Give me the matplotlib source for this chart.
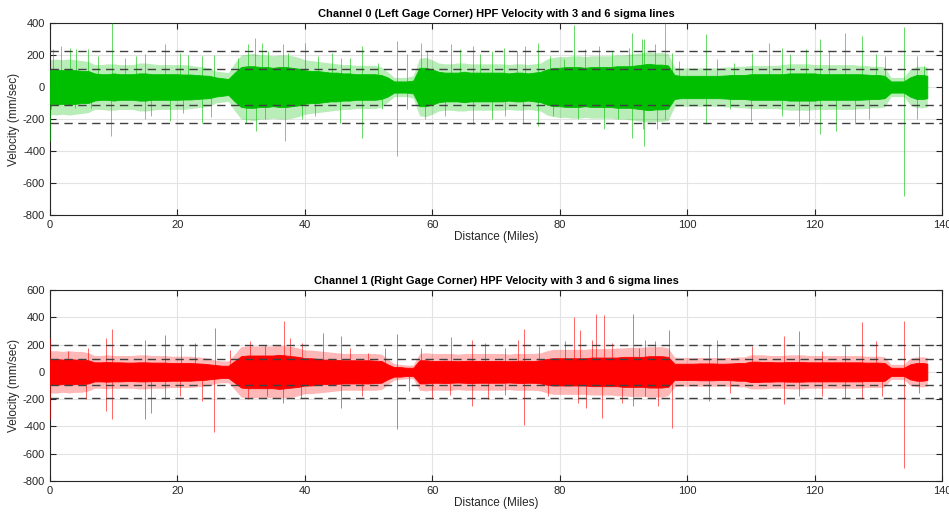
import matplotlib
matplotlib.use("Agg")
import matplotlib.pyplot as plt
import numpy as np

plt.rcParams['font.family'] = ['Liberation Sans', 'DejaVu Sans']
plt.rcParams['axes.unicode_minus'] = False

# ---------------- data ----------------
distance_ticks = [0, 20, 40, 60, 80, 100, 120, 140]
yticks_ch0 = [-800, -600, -400, -200, 0, 200, 400]
yticks_ch1 = [-800, -600, -400, -200, 0, 200, 400, 600]

# sample miles for the dense-signal envelope (one per mile, last = end of run)
env_miles = list(range(138)) + [137.7]

# Channel 0: amplitude of the dense (solid) part of the signal, mm/sec
ch0_core = [105, 110, 105, 110, 105, 100, 100, 85, 80, 80,
            85, 80, 80, 80, 85, 85, 80, 80, 80, 80,
            80, 78, 78, 75, 72, 70, 60, 55, 50, 90,
            125, 130, 130, 125, 125, 120, 125, 125, 120, 115,
            105, 100, 100, 95, 90, 90, 85, 85, 80, 80,
            80, 80, 75, 60, 35, 35, 35, 40, 120, 120,
            110, 95, 90, 90, 90, 95, 90, 90, 90, 90,
            90, 90, 85, 90, 90, 85, 90, 95, 110, 120,
            120, 125, 125, 125, 120, 125, 125, 125, 125, 130,
            130, 130, 135, 140, 145, 140, 140, 135, 75, 70,
            70, 70, 70, 70, 70, 70, 72, 75, 75, 75,
            80, 80, 80, 80, 80, 80, 85, 85, 85, 85,
            85, 80, 80, 80, 80, 80, 80, 80, 78, 75,
            75, 70, 35, 35, 35, 60, 75, 75, 70]
# Channel 0: reach of the thinner "fuzz" of hairs around the solid part
ch0_fuzz = [170, 175, 170, 175, 170, 165, 160, 140, 140, 145,
            145, 140, 140, 140, 150, 150, 145, 140, 140, 140,
            140, 140, 135, 130, 125, 120, 100, 95, 90, 150,
            200, 205, 210, 200, 200, 195, 200, 200, 195, 185,
            170, 165, 160, 155, 150, 145, 140, 140, 135, 135,
            135, 135, 125, 95, 60, 60, 60, 70, 180, 185,
            170, 150, 145, 145, 150, 150, 145, 145, 145, 145,
            145, 145, 140, 145, 145, 140, 145, 150, 175, 185,
            190, 190, 195, 195, 190, 195, 195, 195, 195, 200,
            200, 205, 210, 215, 220, 215, 215, 210, 125, 120,
            120, 120, 120, 120, 120, 120, 125, 125, 130, 130,
            135, 135, 135, 135, 135, 140, 145, 145, 145, 145,
            140, 140, 140, 140, 140, 140, 140, 135, 135, 130,
            130, 125, 60, 60, 60, 110, 130, 130, 125]

# Channel 0 hairs / spikes (mile, mm/sec)
ch0_pos_x = [0.5, 1.8, 3.2, 4.1, 5.9, 7.5, 9.8, 11.7, 13.5, 14.9, 18.0, 20.4, 21.7, 23.8, 25.8,
             29.5, 31.0, 32.1, 33.2, 34.2, 36.6, 37.4, 40.0, 42.1, 44.2, 45.7,
             47.1, 48.9, 51.5, 54.4, 56.0, 58.3, 59.1, 63.0, 64.4, 66.4, 67.5, 69.3, 71.2,
             73.3, 74.6, 76.6, 78.5, 80.6, 82.3, 84.0, 86.1, 88.2, 90.8, 91.4, 92.9,
             93.3, 95.0, 96.5, 97.6, 98.7, 102.9, 104.7, 107.3, 110.2, 112.8, 114.9, 116.2,
             118.6, 120.9, 122.2, 124.8, 127.4, 129.6, 131.1, 134.1, 136.1, 137.1]
ch0_pos_v = [240, 257, 246, 236, 240, 194, 400, 184, 194, 205, 267, 215, 198, 194, 198,
             184, 267, 309, 278, 225, 267, 215, 273, 194, 215, 184,
             184, 257, 152, 288, 205, 273, 225, 267, 236, 257, 205, 225, 246,
             225, 257, 273, 194, 173, 386, 236, 257, 225, 246, 340, 299,
             299, 267, 399, 215, 163, 330, 173, 152, 215, 273, 246, 205,
             236, 299, 225, 336, 320, 205, 194, 372, 194, 130]
ch0_neg_x = [0.0, 0.2, 3.9, 6.5, 9.6, 14.9, 15.9, 18.8, 20.9, 23.8, 25.3, 30.8, 32.4, 33.7, 36.9,
             39.5, 41.6, 45.5, 48.9, 52.1, 54.4, 56.0, 58.9, 62.0, 66.4, 69.3, 71.4, 74.3, 76.6,
             79.0, 82.9, 86.9, 89.2, 91.4, 93.1, 93.3, 95.3, 96.6, 103.0, 106.8, 110.1, 114.9,
             117.5, 119.1, 120.9, 123.4, 126.4, 128.5, 134.1, 136.1]
ch0_neg_v = [-338, -140, -130, -130, -307, -203, -182, -213, -160, -223, -190, -223, -276, -203, -338,
             -203, -180, -223, -317, -140, -432, -140, -203, -182, -234, -203, -182, -223, -244,
             -182, -203, -265, -203, -317, -265, -370, -265, -203, -234, -140, -213, -182,
             -244, -223, -296, -275, -234, -203, -682, -203]
ch0_sigma3 = 111
ch0_sigma6 = 222

# Channel 1: amplitude of the dense part of the signal, mm/sec
ch1_core = [95, 95, 90, 95, 90, 90, 85, 70, 70, 72,
            70, 70, 68, 68, 70, 70, 68, 68, 68, 65,
            65, 65, 65, 62, 60, 55, 50, 45, 45, 80,
            115, 120, 120, 120, 120, 120, 125, 120, 115, 110,
            100, 100, 95, 90, 90, 88, 85, 85, 85, 85,
            85, 82, 80, 55, 35, 35, 30, 30, 85, 85,
            80, 80, 82, 80, 78, 80, 82, 80, 80, 80,
            80, 80, 78, 80, 82, 80, 80, 85, 95, 100,
            100, 100, 100, 100, 100, 105, 105, 105, 105, 105,
            110, 110, 110, 110, 115, 115, 115, 110, 60, 60,
            60, 60, 62, 62, 62, 60, 60, 62, 65, 65,
            75, 75, 72, 72, 70, 70, 72, 72, 72, 70,
            70, 70, 70, 70, 70, 70, 70, 70, 68, 68,
            68, 65, 30, 30, 30, 55, 65, 65, 60]
ch1_fuzz = [155, 155, 150, 155, 150, 150, 140, 120, 120, 125,
            120, 120, 120, 120, 125, 125, 120, 120, 120, 115,
            115, 115, 115, 110, 105, 100, 85, 80, 80, 130,
            185, 190, 190, 190, 190, 190, 195, 190, 185, 175,
            160, 160, 155, 150, 145, 140, 135, 135, 135, 135,
            135, 135, 130, 95, 60, 55, 50, 50, 135, 140,
            135, 135, 135, 135, 130, 135, 135, 135, 135, 135,
            135, 135, 130, 135, 135, 135, 135, 140, 155, 165,
            165, 165, 165, 165, 165, 170, 170, 170, 170, 175,
            175, 180, 180, 180, 185, 185, 185, 175, 110, 105,
            105, 105, 105, 105, 105, 105, 105, 105, 110, 110,
            125, 125, 125, 120, 120, 120, 125, 125, 125, 120,
            120, 120, 120, 120, 120, 120, 120, 120, 115, 115,
            115, 110, 55, 55, 55, 100, 110, 110, 105]

ch1_pos_x = [0.0, 2.8, 6.0, 8.8, 9.7, 14.9, 18.0, 20.6, 22.7, 25.9, 28.2, 31.4, 33.7, 36.8, 37.6,
             39.5, 42.9, 45.7, 47.1, 49.9, 52.6, 54.5, 58.3, 63.0, 66.2, 68.3, 71.4, 73.5, 74.4,
             76.7, 80.8, 82.3, 83.2, 85.0, 85.7, 86.9, 88.2, 91.5, 92.5, 93.4, 95.0, 97.2,
             103.4, 104.7, 110.2, 115.2, 117.5, 121.2, 124.8, 127.5, 129.6, 134.1, 136.4]
ch1_pos_v = [249, 151, 176, 249, 315, 237, 273, 188, 212, 322, 163, 224, 200, 371, 249,
             212, 285, 261, 176, 140, 176, 280, 176, 256, 237, 212, 176, 237, 315,
             188, 224, 402, 310, 237, 424, 420, 212, 424, 176, 237, 224, 310,
             200, 237, 188, 261, 298, 152, 200, 366, 224, 371, 188]
ch1_neg_x = [0.0, 5.7, 8.8, 9.7, 14.9, 15.9, 18.0, 20.4, 23.8, 25.7, 31.1, 34.0, 36.6, 39.4,
             45.6, 48.9, 54.5, 56.3, 59.9, 62.8, 66.3, 68.8, 71.4, 74.4, 78.2, 82.9, 84.2,
             86.7, 89.7, 91.5, 93.4, 95.5, 97.6, 103.4, 106.8, 115.2, 117.5, 121.2, 124.8,
             127.5, 130.6, 134.1, 136.4]
ch1_neg_v = [-349, -202, -288, -344, -344, -300, -202, -178, -215, -441, -202, -178, -227, -190,
             -263, -178, -422, -140, -202, -166, -251, -202, -166, -393, -178, -227, -263,
             -337, -227, -251, -178, -251, -410, -215, -154, -239, -178, -178, -190,
             -202, -178, -702, -154]
ch1_sigma3 = 97
ch1_sigma6 = 194

titles = ["Channel 0 (Left Gage Corner) HPF Velocity with 3 and 6 sigma lines",
          "Channel 1 (Right Gage Corner) HPF Velocity with 3 and 6 sigma lines"]

# ---------------- drawing ----------------
W, H = 949, 513
fig = plt.figure(figsize=(W / 100, H / 100), dpi=100)

axes_boxes = [
    [50 / W, 1 - 215 / H, 892 / W, 192 / H],
    [50 / W, 1 - 481 / H, 892 / W, 191 / H],
]

chan = [
    dict(core=ch0_core, fuzz=ch0_fuzz,
         px=ch0_pos_x, pv=ch0_pos_v, nx=ch0_neg_x, nv=ch0_neg_v,
         s3=ch0_sigma3, s6=ch0_sigma6, color='#00BF00',
         ylim=(-800, 400), yticks=yticks_ch0),
    dict(core=ch1_core, fuzz=ch1_fuzz,
         px=ch1_pos_x, pv=ch1_pos_v, nx=ch1_neg_x, nv=ch1_neg_v,
         s3=ch1_sigma3, s6=ch1_sigma6, color='#FF0000',
         ylim=(-800, 600), yticks=yticks_ch1),
]

axc = '#262626'
xm = np.array(env_miles, dtype=float)
for i, (box, c) in enumerate(zip(axes_boxes, chan)):
    ax = fig.add_axes(box)
    fuzz = np.array(c['fuzz'], dtype=float)
    core = np.array(c['core'], dtype=float)
    ax.fill_between(xm, -fuzz, fuzz, color=c['color'], alpha=0.28, lw=0, zorder=2)
    ax.fill_between(xm, -core, core, color=c['color'], lw=0.6, edgecolor=c['color'], zorder=3)
    ax.vlines(c['px'], 0, c['pv'], color=c['color'], lw=0.7, alpha=0.6, zorder=3)
    ax.vlines(c['nx'], 0, c['nv'], color=c['color'], lw=0.7, alpha=0.6, zorder=3)
    for lvl in (c['s3'], c['s6'], -c['s3'], -c['s6']):
        ax.axhline(lvl, color='#404040', lw=1.0, ls=(0, (6, 4)), zorder=4)

    ax.set_xlim(0, 140)
    ax.set_ylim(*c['ylim'])
    ax.set_xticks(distance_ticks)
    ax.set_yticks(c['yticks'])
    ax.grid(True, color='#e3e3e3', lw=0.8, zorder=0)
    ax.set_axisbelow(True)
    ax.tick_params(direction='in', length=4, width=0.8, colors=axc, labelsize=8,
                   top=True, right=True, labelcolor=axc)
    for sp in ax.spines.values():
        sp.set_color(axc)
        sp.set_linewidth(0.8)
    ax.set_title(titles[i], fontsize=8, fontweight='bold', color='black', pad=4)
    ax.set_xlabel('Distance (Miles)', fontsize=8.5, color=axc, labelpad=1)
    ax.set_ylabel('Velocity (mm/sec)', fontsize=8.5, color=axc, labelpad=2)

fig.savefig('out.png', dpi=100)
